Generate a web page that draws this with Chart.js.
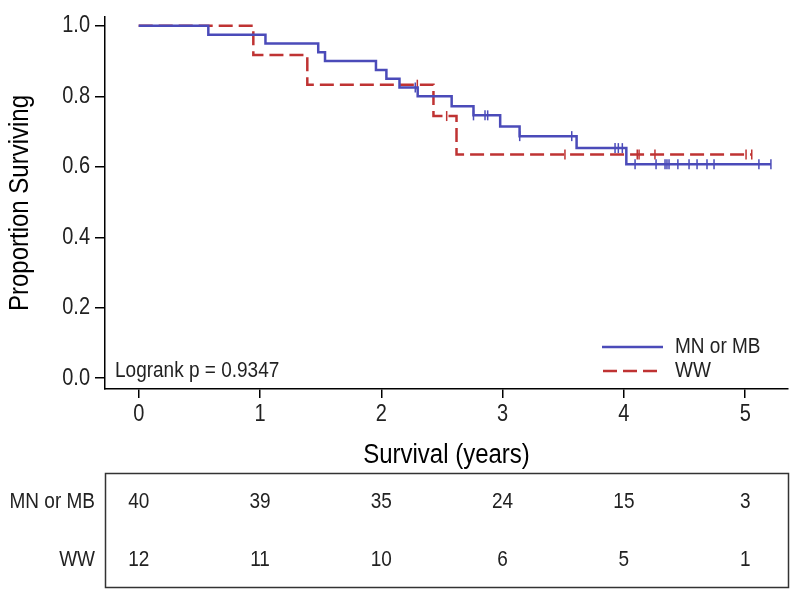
<!DOCTYPE html>
<html>
<head>
<meta charset="utf-8">
<script src="https://cdn.jsdelivr.net/npm/chart.js@4.4.1/dist/chart.umd.min.js"></script>
<style>
  html, body { margin: 0; padding: 0; background: #fff; }
</style>
</head>
<body>
<canvas id="km" width="800" height="598"></canvas>
<script>
const groups = ['MN or MB', 'WW'];

// KM steps: time (years) and survival right after the drop
const mnTimes = [0, 0.574, 1.045, 1.48, 1.536, 1.956, 2.042, 2.15, 2.30, 2.58, 2.76, 2.98, 3.14, 3.61, 4.02, 5.212];
const mnSurv  = [1.0, 0.975, 0.95, 0.925, 0.90, 0.875, 0.85, 0.825, 0.80, 0.772, 0.746, 0.714, 0.687, 0.653, 0.607, 0.607];
const wwTimes = [0, 0.945, 1.39, 2.43, 2.62, 5.054];
const wwSurv  = [1.0, 0.917, 0.833, 0.744, 0.635, 0.635];

// censored times (years)
const mnCensored = [2.28, 2.76, 2.855, 2.877, 3.141, 3.570, 3.927, 3.954, 3.987,
  4.092, 4.265, 4.339, 4.355, 4.372, 4.445, 4.537, 4.603, 4.685, 4.743, 5.113, 5.212];
const wwCensored = [2.297, 2.539, 3.514, 4.11, 4.125, 4.256, 5.007, 5.054];

const xTicks = [0, 1, 2, 3, 4, 5];
const yTicks = [0, 0.2, 0.4, 0.6, 0.8, 1.0];

// number at risk under each x tick
const mnAtRisk = [40, 39, 35, 24, 15, 3];
const wwAtRisk = [12, 11, 10, 6, 5, 1];

const logrankText = 'Logrank p = 0.9347';

const blue = '#4b4bb9';
const red = '#bf3333';
const family = "'Liberation Sans', Arial, sans-serif";

function survAt(times, surv, t) {
  let s = surv[0];
  for (let i = 0; i < times.length; i++) {
    if (times[i] <= t) s = surv[i];
  }
  return s;
}

// the original figure's lettering is a bit taller than it is wide
const tallText = {
  id: 'tallText',
  beforeInit(chart) {
    const ctx = chart.ctx;
    const fill = ctx.fillText.bind(ctx);
    ctx.fillText = function(text, px, py, maxWidth) {
      ctx.save();
      ctx.translate(px, py);
      ctx.scale(1, 1.15);
      if (maxWidth === undefined) fill(text, 0, 0);
      else fill(text, 0, 0, maxWidth);
      ctx.restore();
    };
  }
};

const kmExtras = {
  id: 'kmExtras',
  afterDraw(chart) {
    const ctx = chart.ctx;
    const area = chart.chartArea;
    const x = chart.scales.x;
    ctx.save();

    // legend inside plot, bottom right
    ctx.lineWidth = 2.5;
    ctx.strokeStyle = blue;
    ctx.beginPath();
    ctx.moveTo(602, 347);
    ctx.lineTo(663, 347);
    ctx.stroke();
    ctx.strokeStyle = red;
    ctx.setLineDash([14, 6]);
    ctx.beginPath();
    ctx.moveTo(603, 371);
    ctx.lineTo(663, 371);
    ctx.stroke();
    ctx.setLineDash([]);

    ctx.fillStyle = '#222';
    ctx.font = '19px ' + family;
    ctx.textAlign = 'left';
    ctx.textBaseline = 'middle';
    ctx.fillText(groups[0], 675, 347);
    ctx.fillText(groups[1], 675, 371);

    // logrank
    ctx.textBaseline = 'alphabetic';
    ctx.fillText(logrankText, 115, 377);

    // at-risk table
    ctx.strokeStyle = '#333';
    ctx.lineWidth = 1.5;
    ctx.strokeRect(area.left + 0.5, 473.5, area.right - area.left, 114);

    ctx.textBaseline = 'middle';
    ctx.textAlign = 'right';
    ctx.fillText(groups[0], 95, 502);
    ctx.fillText(groups[1], 95, 560);

    ctx.textAlign = 'center';
    xTicks.forEach((v, i) => {
      const px = x.getPixelForValue(v);
      ctx.fillText(String(mnAtRisk[i]), px, 502);
      ctx.fillText(String(wwAtRisk[i]), px, 560);
    });
    ctx.restore();
  }
};

new Chart(document.getElementById('km'), {
  type: 'scatter',
  data: {
    datasets: [
      {
        label: groups[0],
        data: mnTimes.map((t, i) => ({ x: t, y: mnSurv[i] })),
        showLine: true,
        stepped: true,
        borderColor: blue,
        borderWidth: 2.5,
        pointRadius: 0
      },
      {
        label: groups[1],
        data: wwTimes.map((t, i) => ({ x: t, y: wwSurv[i] })),
        showLine: true,
        stepped: true,
        borderColor: red,
        borderWidth: 2.5,
        borderDash: [14, 6],
        pointRadius: 0
      },
      {
        label: groups[0] + ' censored',
        data: mnCensored.map(t => ({ x: t, y: survAt(mnTimes, mnSurv, t) })),
        showLine: false,
        pointStyle: 'line',
        rotation: 90,
        pointRadius: 5,
        borderColor: blue,
        borderWidth: 1.5
      },
      {
        label: groups[1] + ' censored',
        data: wwCensored.map(t => ({ x: t, y: survAt(wwTimes, wwSurv, t) })),
        showLine: false,
        pointStyle: 'line',
        rotation: 90,
        pointRadius: 5,
        borderColor: red,
        borderWidth: 1.5
      }
    ]
  },
  options: {
    responsive: false,
    animation: false,
    devicePixelRatio: 1,
    layout: { padding: { top: 10, left: 0, right: 12, bottom: 127 } },
    plugins: {
      legend: { display: false },
      tooltip: { enabled: false }
    },
    scales: {
      x: {
        type: 'linear',
        min: -0.2778,
        max: 5.3528,
        afterBuildTicks: ax => { ax.ticks = xTicks.map(v => ({ value: v })); },
        afterFit: ax => { ax.height = 82; },
        grid: { drawOnChartArea: false, tickLength: 9, color: '#000', lineWidth: 1.5 },
        border: { color: '#000', width: 1.5 },
        ticks: {
          padding: 5,
          color: '#222',
          font: { family: family, size: 20 },
          callback: v => String(v)
        },
        title: {
          display: true,
          text: 'Survival (years)',
          color: '#000',
          font: { family: family, size: 24 },
          padding: { top: 0, bottom: 1 }
        }
      },
      y: {
        type: 'linear',
        min: -0.0306,
        max: 1.0251,
        afterBuildTicks: ax => { ax.ticks = yTicks.map(v => ({ value: v })); },
        afterFit: ax => { ax.width = 105; },
        grid: { drawOnChartArea: false, tickLength: 10, color: '#000', lineWidth: 1.5 },
        border: { color: '#000', width: 1.5 },
        ticks: {
          padding: 5,
          color: '#222',
          font: { family: family, size: 20 },
          callback: v => v.toFixed(1)
        },
        title: {
          display: true,
          text: 'Proportion Surviving',
          color: '#000',
          font: { family: family, size: 24 },
          padding: { top: 6, bottom: 0 }
        }
      }
    }
  },
  plugins: [tallText, kmExtras]
});
</script>
</body>
</html>
